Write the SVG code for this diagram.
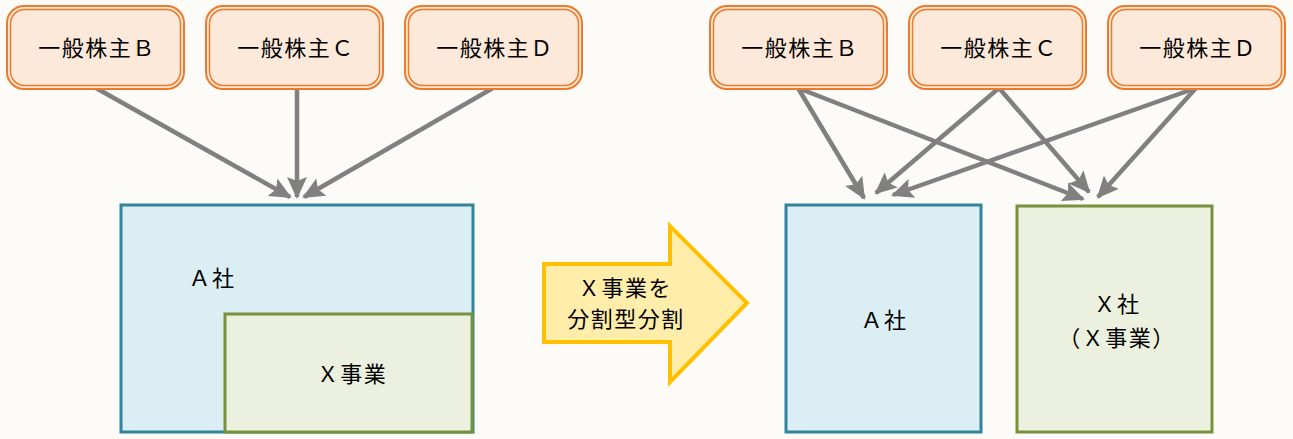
<svg xmlns="http://www.w3.org/2000/svg" width="1293" height="439" viewBox="0 0 1293 439">
<style>
text{font-family:"Noto Sans CJK JP","Noto Sans",sans-serif;font-size:22px;letter-spacing:1.5px;fill:#000;text-anchor:middle}
.sh-o{fill:#FDE9D9;stroke:#EE7A2A;stroke-width:2}
.sh-i{fill:none;stroke:#EE7A2A;stroke-width:1.5}
.conn line{stroke:#808080;stroke-width:4.5;marker-end:url(#ah)}
.coA{fill:#DAEEF3;stroke:#31849B;stroke-width:3}
.coX{fill:#EBF1DE;stroke:#76923C;stroke-width:3}
</style>
<defs>
<marker id="ah" markerUnits="userSpaceOnUse" markerWidth="22" markerHeight="20" viewBox="0 0 22 20" refX="20" refY="10" orient="auto">
<path d="M0,0 L22,10 L0,20 L4,10 Z" fill="#808080"/>
</marker>
</defs>
<rect width="1293" height="439" fill="#FCFBF7"/>

<g id="connectors" class="conn">
<line x1="96" y1="88" x2="290" y2="197"/>
<line x1="297" y1="88" x2="297" y2="197"/>
<line x1="493" y1="88" x2="304" y2="197"/>
<line x1="798" y1="88" x2="864" y2="198"/>
<line x1="798" y1="88" x2="1083" y2="199"/>
<line x1="999" y1="88" x2="876" y2="193"/>
<line x1="999" y1="88" x2="1089" y2="192"/>
<line x1="1196" y1="88" x2="893" y2="195"/>
<line x1="1196" y1="88" x2="1098" y2="197"/>
</g>

<g id="b1"><rect class="sh-o" x="7" y="6" width="177" height="83" rx="17"/><rect class="sh-i" x="10.5" y="9.5" width="170" height="76" rx="14"/><text x="97" y="56">一般株主Ｂ</text></g>
<g id="c1"><rect class="sh-o" x="206" y="6" width="177" height="83" rx="17"/><rect class="sh-i" x="209.5" y="9.5" width="170" height="76" rx="14"/><text x="296" y="56">一般株主Ｃ</text></g>
<g id="d1"><rect class="sh-o" x="405" y="6" width="177" height="83" rx="17"/><rect class="sh-i" x="408.5" y="9.5" width="170" height="76" rx="14"/><text x="495" y="56">一般株主Ｄ</text></g>

<g id="b2"><rect class="sh-o" x="710" y="6" width="177" height="83" rx="17"/><rect class="sh-i" x="713.5" y="9.5" width="170" height="76" rx="14"/><text x="800" y="56">一般株主Ｂ</text></g>
<g id="c2"><rect class="sh-o" x="909" y="6" width="177" height="83" rx="17"/><rect class="sh-i" x="912.5" y="9.5" width="170" height="76" rx="14"/><text x="999" y="56">一般株主Ｃ</text></g>
<g id="d2"><rect class="sh-o" x="1108" y="6" width="177" height="83" rx="17"/><rect class="sh-i" x="1111.5" y="9.5" width="170" height="76" rx="14"/><text x="1198" y="56">一般株主Ｄ</text></g>

<g id="companyA-before">
<rect class="coA" x="121" y="205" width="352" height="227"/>
<text x="212" y="286">Ａ社</text>
</g>
<g id="businessX-before">
<rect class="coX" x="225" y="314" width="247" height="118"/>
<text x="352" y="382">Ｘ事業</text>
</g>

<g id="split-arrow">
<path d="M544,264 L670,264 L670,226 L747,303 L670,382 L670,342 L544,342 Z" fill="#FFEDA9" stroke="#FFC000" stroke-width="4" stroke-linejoin="miter"/>
<text x="625" y="296">Ｘ事業を</text>
<text x="626" y="327">分割型分割</text>
</g>

<g id="companyA-after">
<rect class="coA" x="786" y="205" width="195" height="227"/>
<text x="884" y="328">Ａ社</text>
</g>
<g id="companyX-after">
<rect class="coX" x="1017" y="206" width="195" height="226"/>
<text x="1117" y="312">Ｘ社</text>
<text x="1117" y="346">（Ｘ事業）</text>
</g>
</svg>
